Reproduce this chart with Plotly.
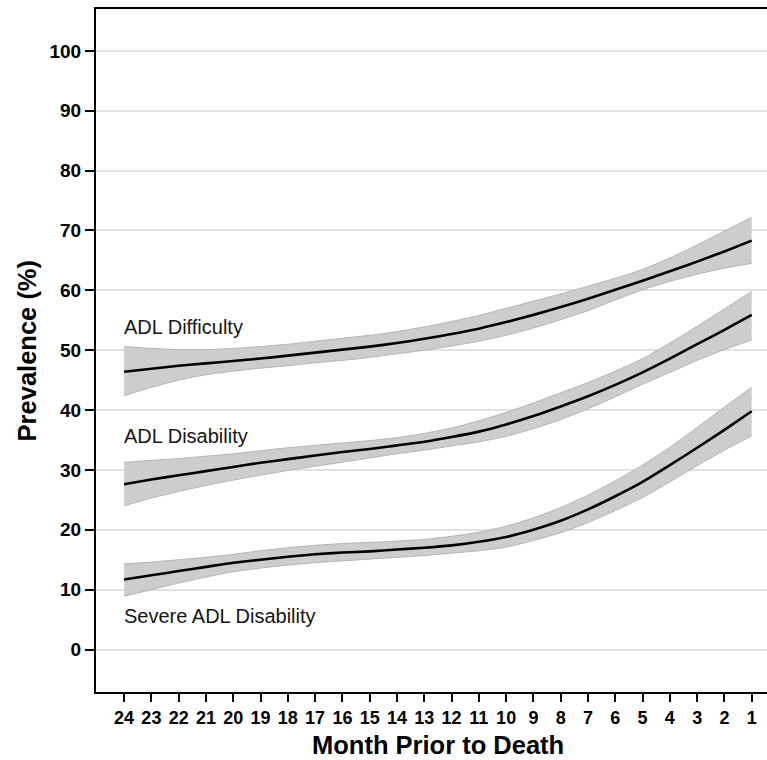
import plotly.graph_objects as go

months = list(range(24, 0, -1))
month_labels = [str(m) for m in months]

difficulty = [46.4, 46.9, 47.4, 47.8, 48.2, 48.6, 49.1, 49.6, 50.1, 50.6, 51.2, 51.9,
              52.7, 53.6, 54.7, 55.9, 57.2, 58.6, 60.1, 61.6, 63.2, 64.8, 66.5, 68.3]
difficulty_hi = [50.6, 50.3, 50.1, 50.1, 50.3, 50.6, 51.0, 51.5, 52.0, 52.5, 53.1, 53.9,
                 54.8, 55.8, 57.0, 58.2, 59.4, 60.7, 62.0, 63.5, 65.4, 67.6, 69.9, 72.2]
difficulty_lo = [42.4, 43.8, 45.0, 45.9, 46.5, 47.0, 47.4, 47.9, 48.3, 48.8, 49.4, 50.0,
                 50.7, 51.5, 52.5, 53.7, 55.1, 56.6, 58.4, 60.1, 61.5, 62.7, 63.7, 64.5]

disability = [27.6, 28.4, 29.1, 29.8, 30.5, 31.2, 31.8, 32.4, 33.0, 33.5, 34.1, 34.7,
              35.5, 36.4, 37.6, 39.0, 40.6, 42.3, 44.2, 46.3, 48.6, 51.0, 53.4, 55.9]
disability_hi = [31.25, 31.6, 31.9, 32.3, 32.7, 33.2, 33.7, 34.1, 34.5, 34.9, 35.4, 36.1,
                 37.0, 38.2, 39.6, 41.2, 42.9, 44.6, 46.5, 48.6, 51.2, 54.0, 56.9, 59.8]
disability_lo = [24.0, 25.3, 26.4, 27.4, 28.3, 29.1, 29.9, 30.6, 31.3, 32.0, 32.7, 33.3,
                 34.0, 34.7, 35.6, 36.9, 38.4, 40.2, 42.2, 44.3, 46.3, 48.3, 50.1, 51.7]

severe = [11.7, 12.4, 13.1, 13.8, 14.5, 15.0, 15.5, 15.9, 16.2, 16.4, 16.7, 17.0,
          17.4, 18.0, 18.8, 20.0, 21.5, 23.4, 25.6, 28.0, 30.8, 33.7, 36.7, 39.8]
severe_hi = [14.3, 14.6, 15.0, 15.4, 15.9, 16.5, 17.0, 17.4, 17.7, 17.9, 18.1, 18.4,
             18.9, 19.6, 20.6, 22.0, 23.7, 25.8, 28.2, 30.8, 33.8, 37.1, 40.5, 43.8]
severe_lo = [8.9, 10.0, 11.1, 12.1, 13.0, 13.6, 14.1, 14.5, 14.8, 15.1, 15.4, 15.7,
             16.1, 16.5, 17.1, 18.2, 19.5, 21.2, 23.2, 25.4, 28.0, 30.7, 33.3, 35.7]

series = [
    ("ADL Difficulty", difficulty, difficulty_lo, difficulty_hi, 53.8),
    ("ADL Disability", disability, disability_lo, disability_hi, 35.7),
    ("Severe ADL Disability", severe, severe_lo, severe_hi, 5.6),
]

y_ticks = list(range(0, 101, 10))

fig = go.Figure()
for name, mid, lo, hi, label_y in series:
    fig.add_trace(go.Scatter(
        x=months, y=lo, mode="lines",
        line=dict(color="#b5b5b5", width=1, shape="spline", smoothing=0.6),
        hoverinfo="skip", showlegend=False))
    fig.add_trace(go.Scatter(
        x=months, y=hi, mode="lines", fill="tonexty", fillcolor="#cdcdcd",
        line=dict(color="#b5b5b5", width=1, shape="spline", smoothing=0.6),
        hoverinfo="skip", showlegend=False))
    fig.add_trace(go.Scatter(
        x=months, y=mid, mode="lines",
        line=dict(color="#000000", width=2.6, shape="spline", smoothing=0.6),
        name=name, showlegend=False))
    fig.add_annotation(x=24, y=label_y, xref="x", yref="y", text=name,
                       showarrow=False, xanchor="left", yanchor="middle",
                       xshift=-2,
                       font=dict(family="Liberation Sans", size=20, color="#151515"))

fig.add_annotation(x=12.5, xref="x", y=-0.078, yref="paper",
                   text="<b>Month Prior to Death</b>", showarrow=False,
                   xanchor="center", yanchor="middle",
                   font=dict(family="Liberation Sans", size=25.5, color="#000000"))
fig.add_annotation(x=-0.103, xref="paper", y=0.5, yref="paper",
                   text="<b>Prevalence (%)</b>", showarrow=False, textangle=-90,
                   xanchor="center", yanchor="middle",
                   font=dict(family="Liberation Sans", size=25.5, color="#000000"))

fig.update_layout(
    width=767, height=760,
    margin=dict(l=96, r=0, t=9, b=68.3, pad=0),
    paper_bgcolor="white", plot_bgcolor="white",
    showlegend=False,
    xaxis=dict(
        range=[25.03, 0.44], tickmode="array", tickvals=months, ticktext=month_labels,
        ticks="outside", ticklen=8, tickwidth=2, tickcolor="#000000",
        showline=True, linecolor="#000000", linewidth=2, mirror=True,
        showgrid=False, zeroline=False,
        tickfont=dict(family="Liberation Sans", size=18, color="#000000", weight="bold"),
    ),
    yaxis=dict(
        range=[-7.1, 107], tickmode="array", tickvals=y_ticks,
        ticktext=[str(v) for v in y_ticks],
        ticks="outside", ticklen=9, tickwidth=2, tickcolor="#000000",
        showline=True, linecolor="#000000", linewidth=2,
        showgrid=True, gridcolor="#e2e2e2", gridwidth=1.5, zeroline=False,
        tickfont=dict(family="Liberation Sans", size=19, color="#000000", weight="bold"),
    ),
)

fig.write_html("out.html", config={"displayModeBar": False},
               post_script="document.body.style.margin='0px';document.body.style.overflow='hidden';")
